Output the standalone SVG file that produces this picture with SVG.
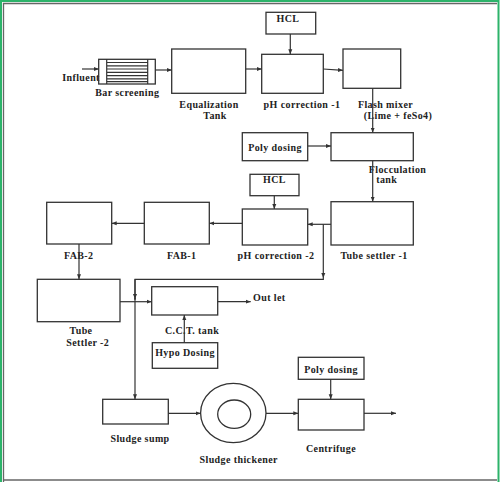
<svg xmlns="http://www.w3.org/2000/svg" width="500" height="482" viewBox="0 0 500 482">
<defs>
<marker id="ah" viewBox="0 0 10 10" refX="10" refY="5" markerWidth="5" markerHeight="5" orient="auto" markerUnits="userSpaceOnUse">
<path d="M0,1 L10,5 L0,9 z" fill="#333"/>
</marker>
<style>
.b{fill:none;stroke:#333;stroke-width:1.3}
.c{fill:none;stroke:#333;stroke-width:1.2}
.a{fill:none;stroke:#333;stroke-width:1.2;marker-end:url(#ah)}
text{font-family:"Liberation Serif","Times New Roman",serif;font-weight:bold;font-size:10px;letter-spacing:0.4px;fill:#222;text-anchor:middle}
</style>
</defs>
<rect width="500" height="482" fill="#fff"/>
<g id="frame">
<path d="M1,482 V1 H498.5 V482" fill="none" stroke="#2db36a" stroke-width="2"/>
<path d="M3.5,482 V3.5 H497" fill="none" stroke="#666" stroke-width="1.3"/>
<path d="M3,480 H497" fill="none" stroke="#666" stroke-width="1.3"/>
</g>
<g id="influent"><text x="81" y="81">Influent</text></g>
<g id="bar-screening">
<rect class="b" x="98.7" y="59.3" width="56.6" height="24.7" fill="#fff"/>
<path class="c" d="M106.7,59.3 V84 M147.7,59.3 V84 M106.7,62.5 H147.7 M106.7,65.8 H147.7 M106.7,69 H147.7 M106.7,72.3 H147.7 M106.7,75.6 H147.7 M106.7,78.8 H147.7 M106.7,81.7 H147.7"/>
<text x="127.3" y="96">Bar screening</text>
</g>
<g id="equalization-tank">
<rect class="b" x="171.7" y="49" width="74" height="44.3"/>
<text x="209" y="108">Equalization</text>
<text x="215" y="118.5">Tank</text>
</g>
<g id="hcl-1">
<rect class="b" x="266" y="12.3" width="49.7" height="21.7"/>
<text x="288" y="21.5">HCL</text>
</g>
<g id="ph-correction-1">
<rect class="b" x="261.7" y="54.3" width="61.6" height="39"/>
<text x="302" y="108">pH correction -1</text>
</g>
<g id="flash-mixer">
<rect class="b" x="343" y="49" width="57.7" height="39.3"/>
<text x="385.5" y="108">Flash mixer</text>
<text x="398" y="118.5">(Lime + feSo4)</text>
</g>
<g id="poly-dosing-1">
<rect class="b" x="242.3" y="132.7" width="65.4" height="28"/>
<text x="275" y="150.5">Poly dosing</text>
</g>
<g id="flocculation-tank">
<rect class="b" x="331" y="132.7" width="82.3" height="28"/>
<text x="397.5" y="172.5">Flocculation</text>
<text x="386.7" y="183">tank</text>
</g>
<g id="hcl-2">
<rect class="b" x="250" y="174.3" width="49" height="21.4"/>
<text x="274.5" y="183">HCL</text>
</g>
<g id="ph-correction-2">
<rect class="b" x="242.3" y="209" width="65.4" height="36"/>
<text x="276" y="259">pH correction -2</text>
</g>
<g id="tube-settler-1">
<rect class="b" x="331" y="201.7" width="82.3" height="43.3"/>
<text x="374" y="259">Tube settler -1</text>
</g>
<g id="fab-1">
<rect class="b" x="144.3" y="202.3" width="65" height="41.7"/>
<text x="181.7" y="259">FAB-1</text>
</g>
<g id="fab-2">
<rect class="b" x="46.7" y="202.3" width="65" height="41.7"/>
<text x="78.7" y="259">FAB-2</text>
</g>
<g id="tube-settler-2">
<rect class="b" x="37.3" y="279.3" width="82.7" height="42.4"/>
<text x="81" y="334">Tube</text>
<text x="87.7" y="345.5">Settler -2</text>
</g>
<g id="cct-tank">
<rect class="b" x="151.7" y="286.7" width="66" height="28.3"/>
<text x="192" y="334">C.C.T. tank</text>
</g>
<g id="outlet"><text x="253" y="301" style="text-anchor:start">Out let</text></g>
<g id="hypo-dosing">
<rect class="b" x="152.3" y="342.7" width="65.4" height="25.6"/>
<text x="185" y="356">Hypo Dosing</text>
</g>
<g id="sludge-sump">
<rect class="b" x="102.7" y="399.3" width="65.6" height="24.7"/>
<text x="140" y="442">Sludge sump</text>
</g>
<g id="sludge-thickener">
<ellipse class="b" cx="233.3" cy="413" rx="32.7" ry="29.7"/>
<ellipse class="b" cx="234.2" cy="414.2" rx="16.5" ry="14.2"/>
<text x="238.7" y="463">Sludge thickener</text>
</g>
<g id="poly-dosing-2">
<rect class="b" x="298.3" y="357.3" width="65.7" height="22"/>
<text x="331" y="372.7">Poly dosing</text>
</g>
<g id="centrifuge">
<rect class="b" x="298.3" y="399.3" width="65.7" height="30.7"/>
<text x="331" y="451.7">Centrifuge</text>
</g>
<g id="connectors">
<path class="a" d="M82,69 H98.7"/>
<path class="a" d="M155.3,70 H171.7"/>
<path class="a" d="M245.7,69 H261.7"/>
<path class="a" d="M290.3,34 V54.3"/>
<path class="a" d="M323.3,69 L343,70.3"/>
<path class="a" d="M372.7,88.3 V132.7"/>
<path class="a" d="M307.7,146 H331"/>
<path class="a" d="M372.7,160.7 V201.7"/>
<path class="a" d="M274.3,195.7 V209"/>
<path class="a" d="M331,224.3 H307.7"/>
<path class="a" d="M242.3,223.3 H209.3"/>
<path class="a" d="M144.3,223.3 H111.7"/>
<path class="a" d="M79,244 V279.3"/>
<path class="a" d="M323.3,224.3 V278"/>
<path class="c" d="M323.3,278 V279.3 H135 V300"/>
<path class="a" d="M135,279.3 V299"/>
<path class="a" d="M135,298 V399.3"/>
<path class="a" d="M120,301.7 H151.7"/>
<path class="a" d="M217.7,301.7 H250.7"/>
<path class="a" d="M184.3,342.7 V315"/>
<path class="a" d="M168.3,413.3 H200.7"/>
<path class="a" d="M266,413.3 H298.3"/>
<path class="a" d="M330.7,379.3 V399.3"/>
<path class="a" d="M364,413.3 H396"/>
</g>
</svg>
